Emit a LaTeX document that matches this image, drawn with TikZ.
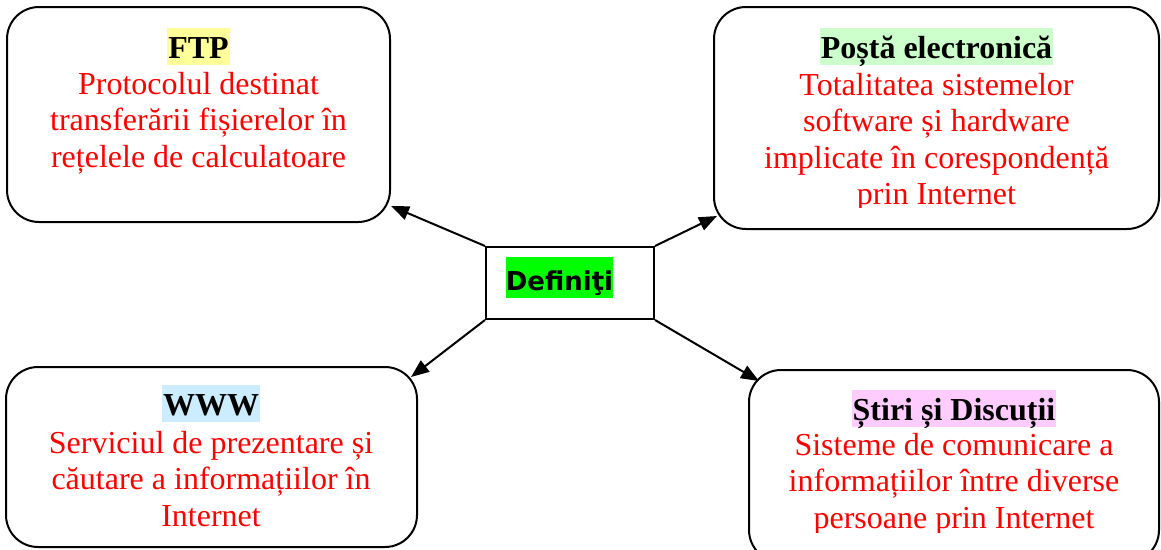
\documentclass[tikz,border=0pt]{standalone}
\usepackage{fontspec}
\setmainfont{Liberation Serif}[Ligatures=NoCommon]
\newfontfamily\comicfont{DejaVu Sans}
\usepackage{tikz}
\usetikzlibrary{arrows.meta,calc}
\definecolor{hlyellow}{HTML}{FFFF99}
\definecolor{hlgreen}{HTML}{CCFFCC}
\definecolor{hlblue}{HTML}{CCECFF}
\definecolor{hlpink}{HTML}{FFCCFF}
\definecolor{hllime}{HTML}{00FF00}

\begin{document}
\begin{tikzpicture}[x=1pt,y=-1pt,
  card/.style={draw,line width=2pt,rounded corners=32pt,inner sep=0pt},
  title/.style={anchor=base,inner xsep=1pt,inner ysep=0pt,text height=30pt,text depth=7pt,
    font=\fontsize{32}{36.5}\selectfont\bfseries},
  body/.style={anchor=base,align=center,inner sep=0pt,text=red,
    font=\fontsize{32}{36.5}\selectfont},
  link/.style={line width=2pt,-{Triangle[length=18pt,width=14pt]}}]
\clip (0,0) rectangle (1161,549);
\fill[white] (0,0) rectangle (1161,549);

% boxes
\node[card,minimum width=383pt,minimum height=215pt] (ftp) at (198.5,114.5) {};
\node[card,minimum width=445pt,minimum height=222pt] (posta) at (936.5,118) {};
\node[card,minimum width=411pt,minimum height=180pt] (www) at (211.5,457) {};
\node[card,minimum width=410pt,minimum height=192pt] (stiri) at (954,466) {};
\node[draw,line width=2pt,minimum width=168pt,minimum height=72pt,inner sep=0pt] (def) at (570,283) {};
\node[anchor=base,fill=hllime,inner sep=0pt,text height=33pt,text depth=8pt,
  font=\comicfont\bfseries\fontsize{26}{30}\selectfont] (deftext) at (559.5,290) {Definiţi};

% texts (anchor is the baseline of the last line)
\node[title,fill=hlyellow] (ftptitle) at (198.5,58) {FTP};
\node[body] (ftptext) at (198.5,167) {Protocolul destinat\\transferării fișierelor în\\rețelele de calculatoare};

\node[title,fill=hlgreen] (postatitle) at (936.5,58) {Poștă electronică};
\begin{scope}
\clip (714,7) rectangle (1159,207);
\node[body] (postatext) at (936.5,204.5) {Totalitatea sistemelor\\software și hardware\\implicate în corespondență\\prin Internet};
\end{scope}

\node[title,fill=hlblue] (wwwtitle) at (211,415) {WWW};
\node[body] (wwwtext) at (211,526) {Serviciul de prezentare și\\căutare a informațiilor în\\Internet};

\node[title,fill=hlpink] (stirititle) at (954,420) {Știri și Discuții};
\begin{scope}
\clip (749,370) rectangle (1159,532);
\node[body] (stiritext) at (954,528) {Sisteme de comunicare a\\informațiilor între diverse\\persoane prin Internet};
\end{scope}

% arrows
\coordinate (ftptip) at ($(ftp.south east)+(0,-17)$);
\coordinate (postatip) at ($(posta.south west)+(4,-14)$);
\coordinate (wwwtip) at ($(www.north east)+(-7,11)$);
\coordinate (stiritip) at ($(stiri.north west)+(11,12)$);
\draw[link] (def.north west) -- (ftptip);
\draw[link] (def.north east) -- (postatip);
\draw[link] (def.south west) -- (wwwtip);
\draw[link] (def.south east) -- (stiritip);
\end{tikzpicture}
\end{document}
